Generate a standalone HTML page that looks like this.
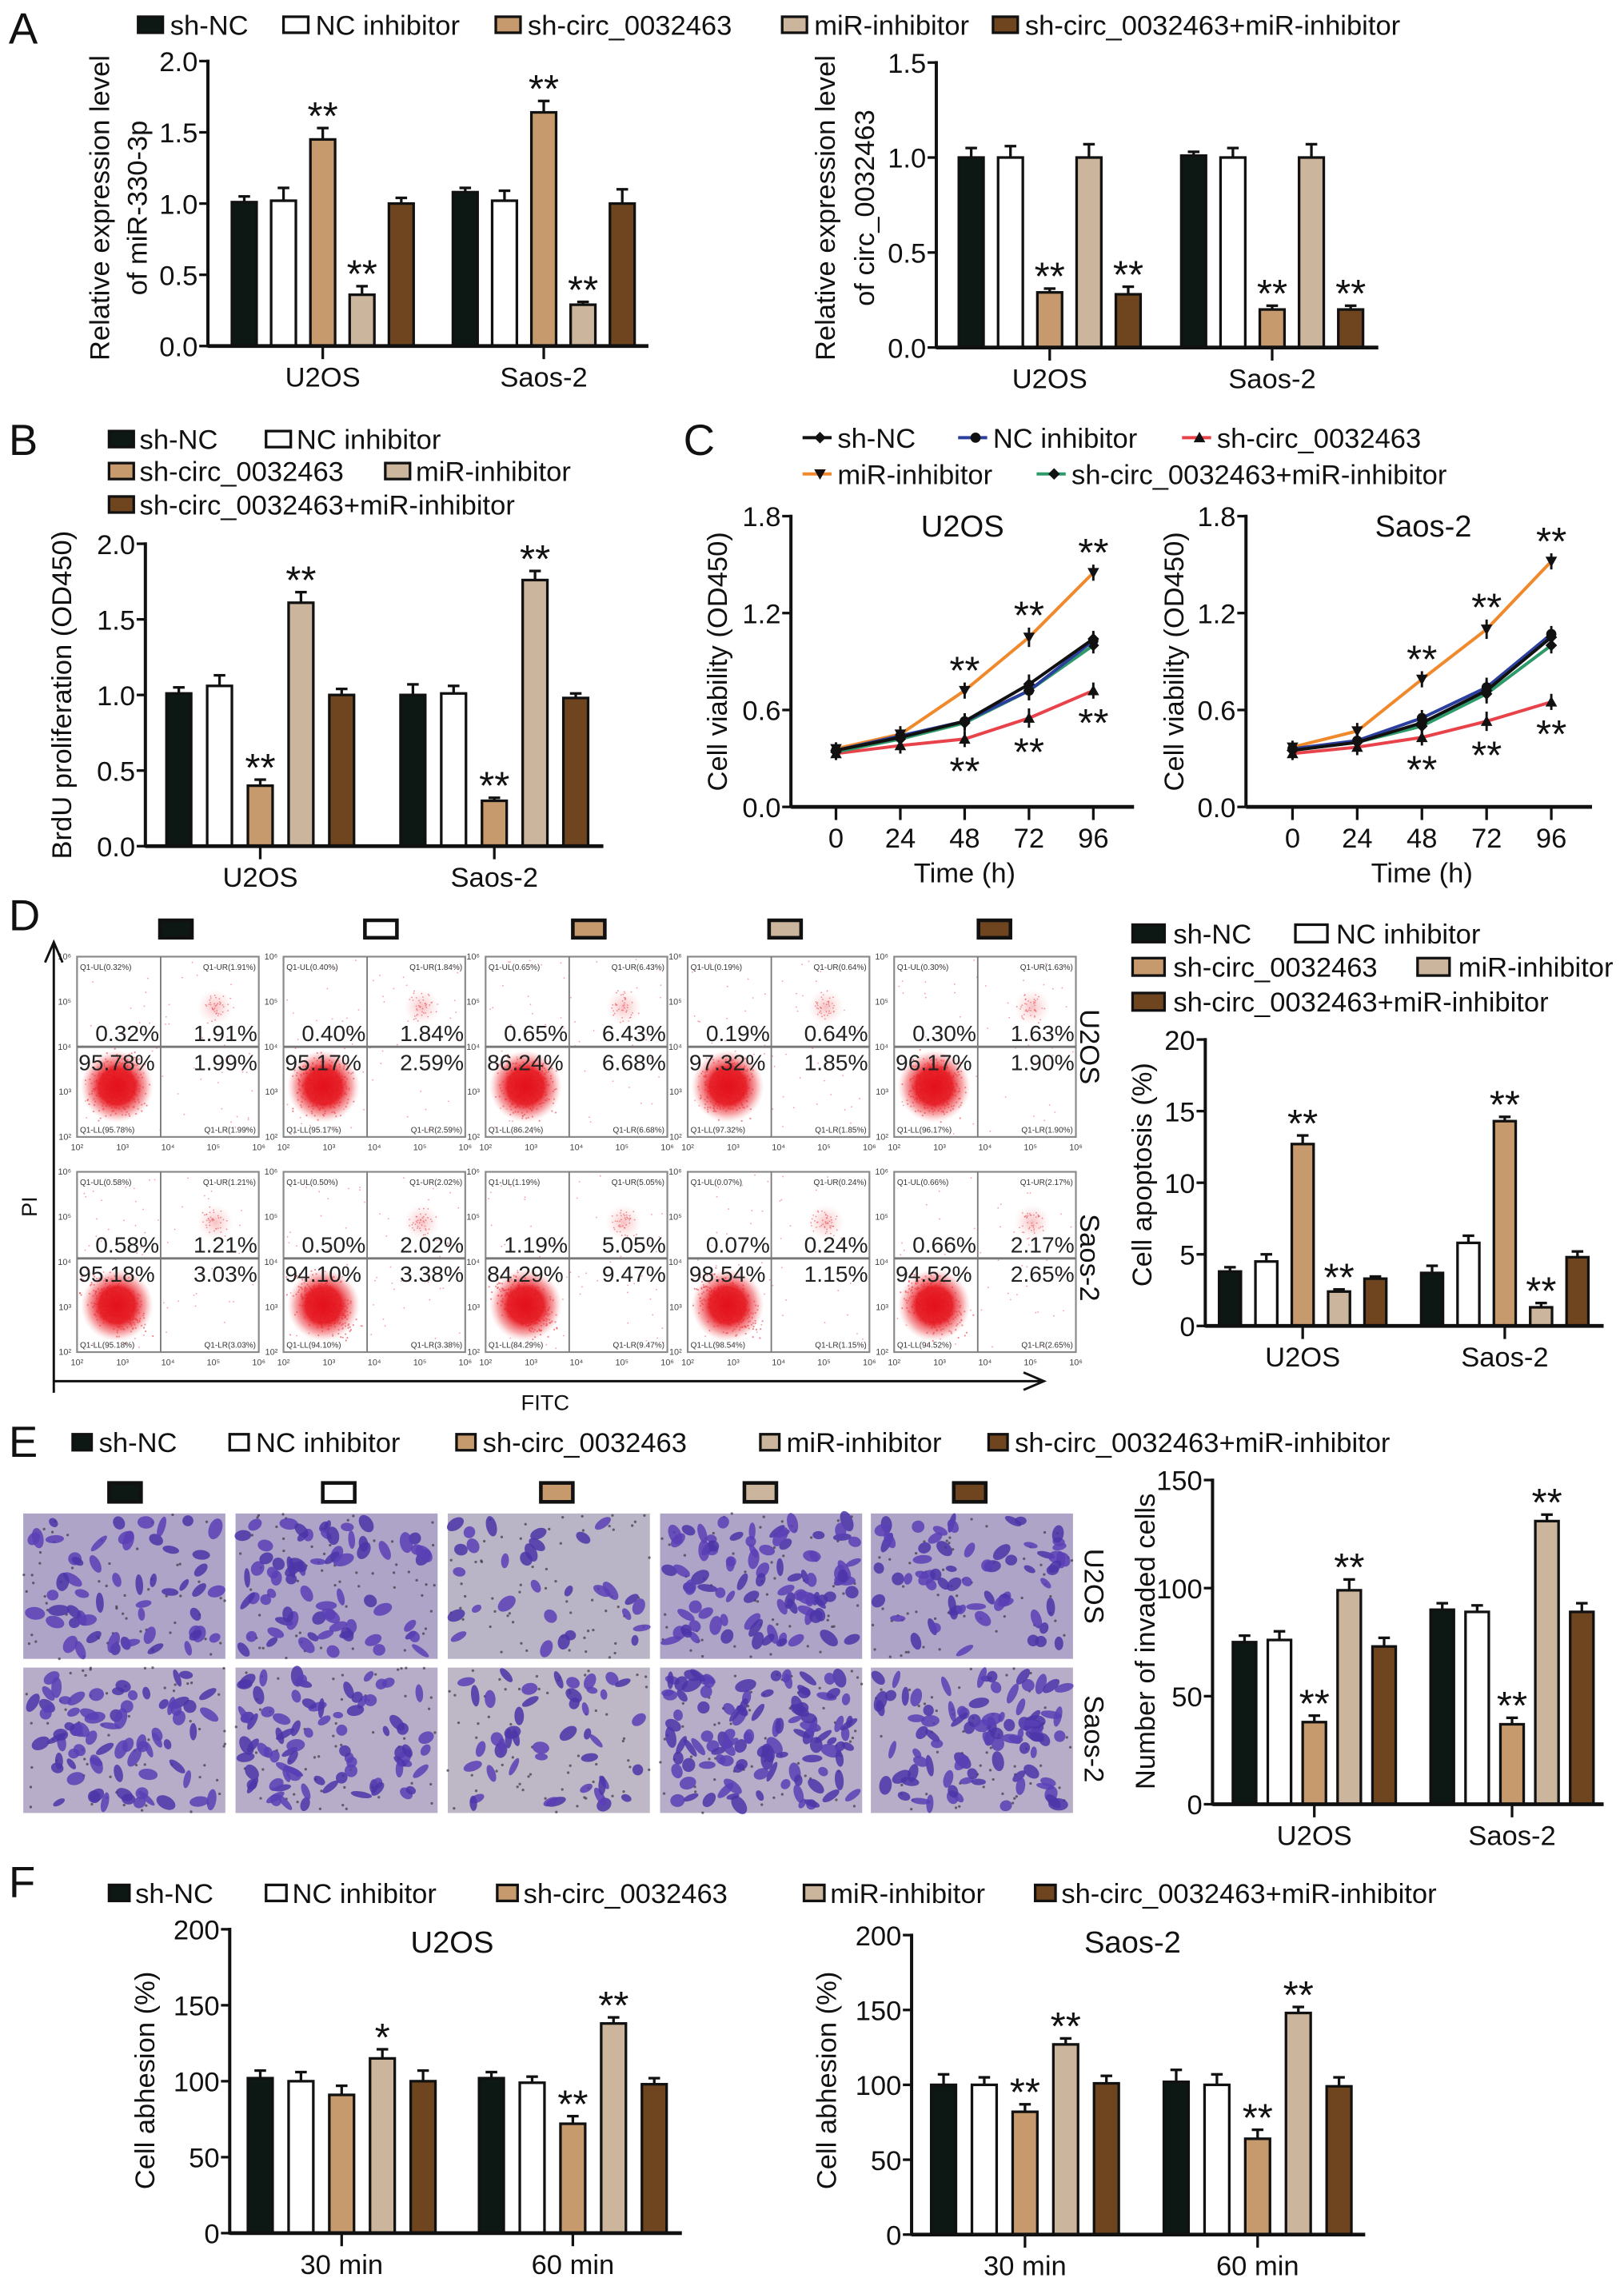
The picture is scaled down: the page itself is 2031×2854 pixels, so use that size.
<!DOCTYPE html>
<html><head><meta charset="utf-8"><style>
html,body{margin:0;padding:0;background:#fff;}
svg{display:block;font-family:"Liberation Sans",Arial,sans-serif;}
</style></head><body>
<svg id="fig" xmlns="http://www.w3.org/2000/svg" width="2031" height="2854" viewBox="0 0 1117 1569.6">
<defs>
<radialGradient id="cloud" cx="50%" cy="50%" r="50%">
<stop offset="0%" stop-color="#e3101a" stop-opacity="1"/>
<stop offset="50%" stop-color="#e61a22" stop-opacity="0.95"/>
<stop offset="78%" stop-color="#ee5055" stop-opacity="0.5"/>
<stop offset="100%" stop-color="#f49a9c" stop-opacity="0"/>
</radialGradient>
<radialGradient id="cloud2" cx="50%" cy="50%" r="50%">
<stop offset="0%" stop-color="#e8474d" stop-opacity="0.35"/>
<stop offset="100%" stop-color="#f3a3a5" stop-opacity="0"/>
</radialGradient>
</defs>
</svg>
<script>
// ---------------- DATA ----------------
const SERIES=['sh-NC','NC inhibitor','sh-circ_0032463','miR-inhibitor','sh-circ_0032463+miR-inhibitor'];
const CELL_CATS=['U2OS','Saos-2'];
const TIME_CATS=['30 min','60 min'];
const A1_U2OS=[1.01,1.02,1.45,0.36,1.0];
const A1_SAOS=[1.08,1.02,1.64,0.29,1.0];
const A1_ERR_U2OS=[0.04,0.09,0.08,0.06,0.04];
const A1_ERR_SAOS=[0.03,0.07,0.08,0.02,0.10];
const A1_STARS=[['','','**','**',''],['','','**','**','']];
const A1_TICKS=[0,0.5,1.0,1.5,2.0];
const A1_TICKLABELS=['0.0','0.5','1.0','1.5','2.0'];
const A2_U2OS=[1.0,1.0,0.29,1.0,0.28];
const A2_SAOS=[1.01,1.0,0.20,1.0,0.20];
const A2_ERR_U2OS=[0.05,0.06,0.02,0.07,0.04];
const A2_ERR_SAOS=[0.02,0.05,0.02,0.07,0.02];
const A2_STARS=[['','','**','','**'],['','','**','','**']];
const A2_TICKS=[0,0.5,1.0,1.5];
const A2_TICKLABELS=['0.0','0.5','1.0','1.5'];
const B_U2OS=[1.01,1.06,0.40,1.61,1.0];
const B_SAOS=[1.0,1.01,0.30,1.76,0.98];
const B_ERR_U2OS=[0.04,0.07,0.04,0.07,0.04];
const B_ERR_SAOS=[0.07,0.05,0.02,0.06,0.03];
const B_STARS=[['','','**','**',''],['','','**','**','']];
const C_TIMES=[0,24,48,72,96];
const C_U2OS_SHNC=[0.35,0.43,0.53,0.76,1.04];
const C_U2OS_NCI=[0.35,0.44,0.53,0.72,1.03];
const C_U2OS_SHC=[0.33,0.38,0.42,0.55,0.72];
const C_U2OS_MIR=[0.36,0.45,0.72,1.05,1.45];
const C_U2OS_COMB=[0.34,0.42,0.52,0.72,1.0];
const C_SAOS_SHNC=[0.35,0.40,0.52,0.72,1.05];
const C_SAOS_NCI=[0.36,0.41,0.55,0.74,1.07];
const C_SAOS_SHC=[0.33,0.37,0.43,0.53,0.65];
const C_SAOS_MIR=[0.37,0.47,0.79,1.10,1.52];
const C_SAOS_COMB=[0.35,0.40,0.50,0.70,1.0];
const C_ERR=[0.04,0.05,0.05,0.06,0.05];
const C_TICKS=[0,0.6,1.2,1.8];
const C_TICKLABELS=['0.0','0.6','1.2','1.8'];
const D_U2OS=[3.8,4.5,12.7,2.4,3.3];
const D_SAOS=[3.7,5.8,14.3,1.3,4.8];
const D_ERR_U2OS=[0.3,0.5,0.6,0.15,0.15];
const D_ERR_SAOS=[0.5,0.5,0.3,0.3,0.4];
const D_STARS=[['','','**','**',''],['','','**','**','']];
const D_TICKS=[0,5,10,15,20];
const D_TICKLABELS=['0','5','10','15','20'];
const FC_UL=[[0.32,0.40,0.65,0.19,0.30],[0.58,0.50,1.19,0.07,0.66]];
const FC_UR=[[1.91,1.84,6.43,0.64,1.63],[1.21,2.02,5.05,0.24,2.17]];
const FC_LL=[[95.78,95.17,86.24,97.32,96.17],[95.18,94.10,84.29,98.54,94.52]];
const FC_LR=[[1.99,2.59,6.68,1.85,1.90],[3.03,3.38,9.47,1.15,2.65]];
const E_U2OS=[75,76,38,99,73];
const E_SAOS=[90,89,37,131,89];
const E_ERR_U2OS=[3,4,3,5,4];
const E_ERR_SAOS=[3,3,3,3,4];
const E_STARS=[['','','**','**',''],['','','**','**','']];
const E_TICKS=[0,50,100,150];
const E_TICKLABELS=['0','50','100','150'];
const F1_30=[102,100,91,115,100];
const F1_60=[102,99,72,138,98];
const F1_ERR_30=[5,6,6,6,7];
const F1_ERR_60=[4,4,5,4,4];
const F1_STARS=[['','','','*',''],['','','**','**','']];
const F2_30=[100,100,82,127,101];
const F2_60=[102,100,64,148,99];
const F2_ERR_30=[7,5,5,4,5];
const F2_ERR_60=[8,7,6,4,6];
const F2_STARS=[['','','**','**',''],['','','**','**','']];
const F_TICKS=[0,50,100,150,200];
const F_TICKLABELS=['0','50','100','150','200'];

// ---------------- HELPERS ----------------
const NS='http://www.w3.org/2000/svg';
const svg=document.getElementById('fig');
const COL=['#0d1714','#ffffff','#c69a6d','#cbb59c','#6f4520'];
const LCOL=['#111111','#2a3f9e','#e8434a','#f0892b','#2e9a6a'];
function mk(tag,attrs,parent){const e=document.createElementNS(NS,tag);for(const k in attrs)e.setAttribute(k,attrs[k]);(parent||svg).appendChild(e);return e;}
function txt(s,attrs,parent){const t=mk('text',attrs,parent);t.textContent=s;return t;}
let seed=12345;
function rnd(){seed=(seed*1103515245+12345)%2147483648;return seed/2147483648;}
function gauss(){return (rnd()+rnd()+rnd()-1.5)/1.5;}

function panelLetter(s,x,y){
  const t=txt(s,{x:x,y:y,'font-size':30,fill:'#111'});
  
  
}

function legend(items,font,bw,bh,gap,name){
  const g=mk('g',{});
  
  
  items.forEach(it=>{
    const r=mk('rect',{x:it[0],y:it[1]-bh/2,width:bw,height:bh,fill:COL[it[2]],stroke:'#111','stroke-width':1.8},g);
    
    
    const t=txt(SERIES[it[2]],{x:it[0]+bw+gap,y:it[1]+font*0.36,'font-size':font,fill:'#111'},g);
    
    
  });
}

function barChart(c){
  const g=mk('g',{});
  
  
  const y=v=>c.yBot-(v/c.max)*(c.yBot-c.yTop);
  c.groups.forEach((vals,gi)=>{
    const gc=c.centers[gi];
    vals.forEach((v,i)=>{
      const cx=gc+(i-2)*c.pitch;
      const e=c.errs[gi][i];
      const el=mk('line',{x1:cx,y1:y(v),x2:cx,y2:y(v+e),stroke:'#111','stroke-width':1.8},g);
      
      
      const ec=mk('line',{x1:cx-4,y1:y(v+e),x2:cx+4,y2:y(v+e),stroke:'#111','stroke-width':1.8},g);
      
      
      const r=mk('rect',{x:cx-c.bw/2,y:y(v),width:c.bw,height:c.yBot-y(v),fill:COL[i],stroke:'#111','stroke-width':1.8},g);
      
      
      const s=c.stars[gi][i];
      if(s){
        const st=txt(s,{x:cx,y:y(v+e)+1,'font-size':27,'text-anchor':'middle',fill:'#111'},g);
        
        
      }
    });
    const tk=mk('line',{x1:gc,y1:c.yBot,x2:gc,y2:c.yBot+9,stroke:'#111','stroke-width':1.8},g);
    
    
    const tl=txt(c.cats[gi],{x:gc,y:c.yBot+28,'font-size':19,'text-anchor':'middle',fill:'#111'},g);
    
    
  });
  const ya=mk('line',{x1:c.x0,y1:c.yTop-1,x2:c.x0,y2:c.yBot+1,stroke:'#111','stroke-width':2.2},g);
  
  
  const xa=mk('line',{x1:c.x0,y1:c.yBot,x2:c.x1,y2:c.yBot,stroke:'#111','stroke-width':2.6},g);
  
  
  c.ticks.forEach((t,i)=>{
    const l=mk('line',{x1:c.x0-6,y1:y(t),x2:c.x0,y2:y(t),stroke:'#111','stroke-width':1.8},g);
    
    
    const tl=txt(c.tickLabels[i],{x:c.x0-7,y:y(t)+7,'font-size':19,'text-anchor':'end',fill:'#111'},g);
    
    
  });
  c.titles.forEach(tt=>{
    const t=txt(tt[0],{x:0,y:0,'font-size':19,'text-anchor':'middle','dominant-baseline':'central',fill:'#111',transform:'translate('+tt[1]+','+c.titleY+') rotate(-90)'},g);
    
    
  });
  if(c.chartTitle){
    const t=txt(c.chartTitle[0],{x:c.chartTitle[1],y:c.chartTitle[2],'font-size':21,'text-anchor':'middle',fill:'#111'},g);
    
    
  }
}

function marker(g,type,x,y,col){
  let m;
  const s=4;
  if(type==='diamond') m=mk('polygon',{points:[x,y-s,x+s,y,x,y+s,x-s,y].join(' '),fill:col},g);
  else if(type==='circle') m=mk('circle',{cx:x,cy:y,r:3.5,fill:col},g);
  else if(type==='tri') m=mk('polygon',{points:[x,y-s,x+s,y+s*0.8,x-s,y+s*0.8].join(' '),fill:col},g);
  else m=mk('polygon',{points:[x,y+s,x+s,y-s*0.8,x-s,y-s*0.8].join(' '),fill:col},g);
  
  
}
const MARKS=['diamond','circle','tri','invtri','diamond'];

function lineChart(c){
  const g=mk('g',{});
  
  
  const y=v=>c.yBot-(v/1.8)*(c.yBot-c.yTop);
  const x=t=>c.xa+(t/96)*(c.xb-c.xa);
  const ya=mk('line',{x1:c.x0,y1:c.yTop-1,x2:c.x0,y2:c.yBot,stroke:'#111','stroke-width':2.2},g);
  
  
  const xa=mk('line',{x1:c.x0,y1:c.yBot,x2:c.x1,y2:c.yBot,stroke:'#111','stroke-width':2.6},g);
  
  
  C_TICKS.forEach((t,i)=>{
    const l=mk('line',{x1:c.x0-6,y1:y(t),x2:c.x0,y2:y(t),stroke:'#111','stroke-width':1.8},g);
    
    
    const tl=txt(C_TICKLABELS[i],{x:c.x0-7,y:y(t)+7,'font-size':19,'text-anchor':'end',fill:'#111'},g);
    
    
  });
  C_TIMES.forEach(t=>{
    const l=mk('line',{x1:x(t),y1:c.yBot,x2:x(t),y2:c.yBot+9,stroke:'#111','stroke-width':1.8},g);
    
    
    const tl=txt(String(t),{x:x(t),y:c.yBot+28,'font-size':19,'text-anchor':'middle',fill:'#111'},g);
    
    
  });
  const xt=txt('Time (h)',{x:(c.xa+c.xb)/2,y:c.yBot+52,'font-size':19,'text-anchor':'middle',fill:'#111'},g);
  
  
  const yt=txt('Cell viability (OD450)',{x:0,y:0,'font-size':19,'text-anchor':'middle','dominant-baseline':'central',fill:'#111',transform:'translate('+c.titleX+','+((c.yTop+c.yBot)/2)+') rotate(-90)'},g);
  
  
  const ct=txt(c.title,{x:c.titleCx,y:c.yTop+14,'font-size':21,'text-anchor':'middle',fill:'#111'},g);
  
  
  const order=[3,2,4,1,0];
  order.forEach(si=>{
    const vals=c.series[si];
    const pts=vals.map((v,i)=>x(C_TIMES[i]).toFixed(1)+','+y(v).toFixed(1)).join(' ');
    const pl=mk('polyline',{points:pts,fill:'none',stroke:LCOL[si],'stroke-width':2.2},g);
    
    
    vals.forEach((v,i)=>{
      const e=C_ERR[i];
      const eb=mk('line',{x1:x(C_TIMES[i]),y1:y(v-e),x2:x(C_TIMES[i]),y2:y(v+e),stroke:'#111','stroke-width':1.6},g);
      
      
      marker(g,MARKS[si],x(C_TIMES[i]),y(v),'#111');
    });
  });
  [2,3,4].forEach(i=>{
    const up=txt('**',{x:x(C_TIMES[i]),y:y(c.series[3][i]+C_ERR[i])+1,'font-size':27,'text-anchor':'middle',fill:'#111'},g);
    
    
    const dn=txt('**',{x:x(C_TIMES[i]),y:y(c.series[2][i]-C_ERR[i])+26,'font-size':27,'text-anchor':'middle',fill:'#111'},g);
    
    
  });
}

// ---------------- PANEL A ----------------
panelLetter('A',6,30);
legend([[95,17,0],[195,17,1],[341,17,2],[538,17,3],[683,17,4]],19,17,11,5,'legend-a');
barChart({name:'chart-a-mir330',x0:143,x1:446,yTop:42,yBot:238,max:2,ticks:A1_TICKS,tickLabels:A1_TICKLABELS,
  cats:CELL_CATS,centers:[222,374],pitch:27,bw:17,groups:[A1_U2OS,A1_SAOS],errs:[A1_ERR_U2OS,A1_ERR_SAOS],stars:A1_STARS,
  titles:[['Relative expression level',69],['of miR-330-3p',95]],titleY:143});
barChart({name:'chart-a-circ',x0:644,x1:948,yTop:43,yBot:239,max:1.5,ticks:A2_TICKS,tickLabels:A2_TICKLABELS,
  cats:CELL_CATS,centers:[722,875],pitch:27,bw:17,groups:[A2_U2OS,A2_SAOS],errs:[A2_ERR_U2OS,A2_ERR_SAOS],stars:A2_STARS,
  titles:[['Relative expression level',568],['of circ_0032463',595]],titleY:143});

// ---------------- PANEL B ----------------
panelLetter('B',6,313);
legend([[75,302,0],[183,302,1],[75,324,2],[265,324,3],[75,347,4]],19,17,11,4,'legend-b');
barChart({name:'chart-b-brdu',x0:100,x1:415,yTop:374,yBot:582,max:2,ticks:A1_TICKS,tickLabels:A1_TICKLABELS,
  cats:CELL_CATS,centers:[179,340],pitch:28,bw:17,groups:[B_U2OS,B_SAOS],errs:[B_ERR_U2OS,B_ERR_SAOS],stars:B_STARS,
  titles:[['BrdU proliferation (OD450)',43]],titleY:478});

// ---------------- PANEL C ----------------
panelLetter('C',470,313);
(function(){
  const g=mk('g',{});
  
  
  const items=[[552,301,0],[659,301,1],[813,301,2],[552,326,3],[713,326,4]];
  items.forEach(it=>{
    const l=mk('line',{x1:it[0],y1:it[1],x2:it[0]+20,y2:it[1],stroke:LCOL[it[2]],'stroke-width':2.2},g);
    
    
    marker(g,MARKS[it[2]],it[0]+12,it[1],'#111');
    const t=txt(SERIES[it[2]],{x:it[0]+24,y:it[1]+7,'font-size':19,fill:'#111'},g);
    
    
  });
})();
lineChart({name:'chart-c-u2os',x0:544,x1:780,xa:575,xb:752,yTop:355,yBot:555,titleX:494,title:'U2OS',titleCx:662,
  series:[C_U2OS_SHNC,C_U2OS_NCI,C_U2OS_SHC,C_U2OS_MIR,C_U2OS_COMB]});
lineChart({name:'chart-c-saos2',x0:857,x1:1095,xa:889,xb:1067,yTop:355,yBot:555,titleX:808,title:'Saos-2',titleCx:979,
  series:[C_SAOS_SHNC,C_SAOS_NCI,C_SAOS_SHC,C_SAOS_MIR,C_SAOS_COMB]});

// ---------------- PANEL D ----------------
panelLetter('D',6,640);
(function(){
  const g=mk('g',{});
  
  
  const colX=[53,195,334,473,615], rowY=[658,806], W=125, H=124, hfrac=[0.5,0.48];
  [121,262,405,540,684].forEach((cx,i)=>{
    const r=mk('rect',{x:cx-11,y:633,width:22,height:12,fill:COL[i],stroke:'#111','stroke-width':2.5},g);
    
    
  });
  rowY.forEach((ty,ri)=>{
    colX.forEach((lx,ci)=>{
      const vx=lx+W*0.46, hy=ty+H*hfrac[ri];
      const bg=mk('rect',{x:lx,y:ty,width:W,height:H,fill:'#fff',stroke:'#8a8a8a','stroke-width':1.2},g);
      
      
      const ccx=lx+W*0.22, ccy=ty+H*(ri===0?0.72:0.74);
      const sx=ri===1?0.5:0;
      for(let k=0;k<420;k++){
        const gx=gauss()*W*0.2, gy=gauss()*H*0.22;
        const px=ccx+gx+gy*sx, py=ccy+gy;
        if(px<lx+1||px>lx+W-1||py<ty+1||py>ty+H-1) continue;
        mk('circle',{cx:px,cy:py,r:0.6,fill:'#e8343c',opacity:0.6},g);
      }
      for(let k=0;k<60;k++){
        mk('circle',{cx:lx+2+rnd()*(W-4),cy:ty+2+rnd()*(H-4),r:0.5,fill:'#e84048',opacity:0.5},g);
      }
      for(let k=0;k<40;k++){
        mk('circle',{cx:lx+W*0.76+gauss()*W*0.1,cy:ty+H*0.28+gauss()*H*0.12,r:0.5,fill:'#e84048',opacity:0.6},g);
      }
      const cl=mk('ellipse',{cx:ccx,cy:ccy,rx:W*0.2,ry:H*0.2,fill:'url(#cloud)',transform:ri===1?'rotate(-35 '+ccx+' '+ccy+')':''},g);
      
      
      const cl2=mk('ellipse',{cx:lx+W*0.76,cy:ty+H*0.28,rx:W*0.1,ry:H*0.1,fill:'url(#cloud2)'},g);
      
      
      const v=mk('line',{x1:vx,y1:ty,x2:vx,y2:ty+H,stroke:'#777','stroke-width':1},g);
      
      
      const h=mk('line',{x1:lx,y1:hy,x2:lx+W,y2:hy,stroke:'#777','stroke-width':1.6},g);
      
      
      const labs=[[FC_UL[ri][ci],vx-1,hy-4,'end'],[FC_UR[ri][ci],lx+W-1,hy-4,'end'],[FC_LL[ri][ci],lx+1,hy+16,'start'],[FC_LR[ri][ci],lx+W-1,hy+16,'end']];
      labs.forEach(L=>{
        const t=txt(L[0].toFixed(2)+'%',{x:L[1],y:L[2],'font-size':15.5,'text-anchor':L[3],fill:'#222'},g);
        
        
      });
      const small=[['Q1-UL('+FC_UL[ri][ci].toFixed(2)+'%)',lx+2,ty+9,'start'],['Q1-UR('+FC_UR[ri][ci].toFixed(2)+'%)',lx+W-2,ty+9,'end'],['Q1-LL('+FC_LL[ri][ci].toFixed(2)+'%)',lx+2,ty+H-3,'start'],['Q1-LR('+FC_LR[ri][ci].toFixed(2)+'%)',lx+W-2,ty+H-3,'end']];
      small.forEach(L=>{
        const t=txt(L[0],{x:L[1],y:L[2],'font-size':5.5,'text-anchor':L[3],fill:'#333'},g);
        
        
      });
      ['10²','10³','10⁴','10⁵','10⁶'].forEach((s,k)=>{
        const t=txt(s,{x:lx+k*W/4,y:ty+H+9,'font-size':6,'text-anchor':'middle',fill:'#444'},g);
        
        
        const t2=txt(s,{x:lx-4,y:ty+H-k*H/4+2,'font-size':6,'text-anchor':'end',fill:'#444'},g);
        
        
      });
    });
  });
  const pa=mk('line',{x1:37,y1:958,x2:37,y2:650,stroke:'#111','stroke-width':1.6},g);
  
  
  const ph=mk('polyline',{points:'31,662 37,648 43,662',fill:'none',stroke:'#111','stroke-width':1.6},g);
  
  
  const fa=mk('line',{x1:37,y1:950,x2:716,y2:950,stroke:'#111','stroke-width':1.6},g);
  
  
  const fh=mk('polyline',{points:'704,944 718,950 704,956',fill:'none',stroke:'#111','stroke-width':1.6},g);
  
  
  const pl=txt('PI',{x:0,y:0,'font-size':15,'text-anchor':'middle','dominant-baseline':'central',fill:'#111',transform:'translate(20,830) rotate(-90)'},g);
  
  
  const fl=txt('FITC',{x:375,y:970,'font-size':15,'text-anchor':'middle',fill:'#111'},g);
  
  
  const r1=txt('U2OS',{x:0,y:0,'font-size':19,'text-anchor':'middle','dominant-baseline':'central',fill:'#111',transform:'translate(749,720) rotate(90)'},g);
  
  
  const r2=txt('Saos-2',{x:0,y:0,'font-size':19,'text-anchor':'middle','dominant-baseline':'central',fill:'#111',transform:'translate(749,865) rotate(90)'},g);
  
  
})();
legend([[779,642,0],[891,642,1],[779,665,2],[975,665,3],[779,689,4]],19,22,12,6,'legend-d');
barChart({name:'chart-d-apoptosis',x0:829,x1:1103,yTop:715,yBot:912,max:20,ticks:D_TICKS,tickLabels:D_TICKLABELS,
  cats:CELL_CATS,centers:[896,1035],pitch:25,bw:15,groups:[D_U2OS,D_SAOS],errs:[D_ERR_U2OS,D_ERR_SAOS],stars:D_STARS,
  titles:[['Cell apoptosis (%)',786]],titleY:808});

// ---------------- PANEL E ----------------
panelLetter('E',6,1002);
legend([[50,992,0],[158,992,1],[314,992,2],[523,992,3],[680,992,4]],19,13,11,5,'legend-e');
(function(){
  const g=mk('g',{});
  
  
  [86,233,383,523,667].forEach((cx,i)=>{
    const r=mk('rect',{x:cx-11,y:1020,width:22,height:13,fill:COL[i],stroke:'#111','stroke-width':2.5},g);
    
    
  });
  const xs=[16,162,308,454,599], ys=[1041,1147], W=139, H=100;
  const dens=[[55,70,30,90,65],[75,80,45,110,90]];
  ys.forEach((ty,ri)=>{
    xs.forEach((lx,ci)=>{
      const bg=mk('rect',{x:lx,y:ty,width:W,height:H,fill:ri===0?(ci===2?'#b9b4c6':'#aea4c8'):(ci===2?'#bdb7c6':'#b7adc8')},g);
      
      
      for(let k=0;k<60;k++){
        mk('circle',{cx:lx+rnd()*W,cy:ty+rnd()*H,r:0.9,fill:'#3d3640',opacity:0.7},g);
      }
      for(let k=0;k<dens[ri][ci];k++){
        const cx=lx+5+rnd()*(W-10), cy=ty+5+rnd()*(H-10);
        mk('ellipse',{cx:cx,cy:cy,rx:3.5+rnd()*4,ry:2+rnd()*2.5,fill:rnd()<0.5?'#5a3fb6':'#4b35a8',opacity:0.85,transform:'rotate('+(rnd()*180).toFixed(0)+' '+cx.toFixed(1)+' '+cy.toFixed(1)+')'},g);
      }
    });
  });
  const r1=txt('U2OS',{x:0,y:0,'font-size':19,'text-anchor':'middle','dominant-baseline':'central',fill:'#111',transform:'translate(752,1091) rotate(90)'},g);
  
  
  const r2=txt('Saos-2',{x:0,y:0,'font-size':19,'text-anchor':'middle','dominant-baseline':'central',fill:'#111',transform:'translate(752,1196) rotate(90)'},g);
  
  
})();
barChart({name:'chart-e-invasion',x0:834,x1:1103,yTop:1018,yBot:1241,max:150,ticks:E_TICKS,tickLabels:E_TICKLABELS,
  cats:CELL_CATS,centers:[904,1040],pitch:24,bw:16,groups:[E_U2OS,E_SAOS],errs:[E_ERR_U2OS,E_ERR_SAOS],stars:E_STARS,
  titles:[['Number of invaded cells',788]],titleY:1129});

// ---------------- PANEL F ----------------
panelLetter('F',6,1305);
legend([[75,1302,0],[183,1302,1],[342,1302,2],[553,1302,3],[712,1302,4]],19,14,11,4,'legend-f');
barChart({name:'chart-f-u2os',x0:158,x1:469,yTop:1327,yBot:1536,max:200,ticks:F_TICKS,tickLabels:F_TICKLABELS,
  cats:TIME_CATS,centers:[235,394],pitch:28,bw:17,groups:[F1_30,F1_60],errs:[F1_ERR_30,F1_ERR_60],stars:F1_STARS,
  titles:[['Cell abhesion (%)',100]],titleY:1431,chartTitle:['U2OS',311,1343]});
barChart({name:'chart-f-saos2',x0:627,x1:939,yTop:1331,yBot:1537,max:200,ticks:F_TICKS,tickLabels:F_TICKLABELS,
  cats:TIME_CATS,centers:[705,865],pitch:28,bw:17,groups:[F2_30,F2_60],errs:[F2_ERR_30,F2_ERR_60],stars:F2_STARS,
  titles:[['Cell abhesion (%)',569]],titleY:1431,chartTitle:['Saos-2',779,1343]});
</script>
</body></html>
